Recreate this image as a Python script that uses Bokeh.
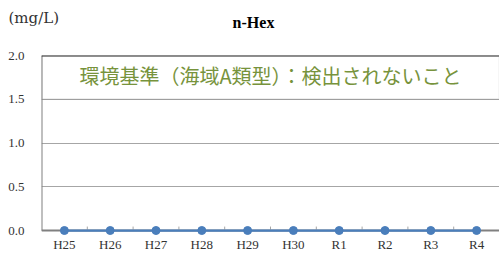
from bokeh.plotting import figure
from bokeh.layouts import column
from bokeh.models import ColumnDataSource, FactorRange, Range1d, Label, BoxAnnotation, Span, FixedTicker
from bokeh.embed import file_html
from bokeh.resources import INLINE

categories = ["H25", "H26", "H27", "H28", "H29", "H30", "R1", "R2", "R3", "R4"]
values = [0, 0, 0, 0, 0, 0, 0, 0, 0, 0]
y_ticks = [0.0, 0.5, 1.0, 1.5, 2.0]
y_tick_labels = ["0.0", "0.5", "1.0", "1.5", "2.0"]
title_text = "n-Hex"
unit_text = "(mg/L)"
standard_text = "環境基準（海域A類型）：検出されないこと"
standard_low, standard_high = 1.5, 2.0

SERIF = "Liberation Serif"

# header strip holding the title and the unit
head = figure(width=499, height=47, output_backend="svg", toolbar_location=None,
              x_range=Range1d(0, 1), y_range=Range1d(0, 1), x_axis_type=None, y_axis_type=None,
              min_border=0)
head.frame_align = False
head.outline_line_color = None
head.grid.visible = False
head.add_layout(Label(x=253, y=25, x_units="screen", y_units="screen", text=title_text,
                      text_align="center", text_baseline="middle",
                      text_font=SERIF, text_font_style="bold", text_font_size="16px", text_color="black"))
head.add_layout(Label(x=8, y=30, x_units="screen", y_units="screen", text=unit_text,
                      text_align="left", text_baseline="middle",
                      text_font="DejaVu Serif", text_font_size="15px", text_color="#333333"))

p = figure(width=499, height=207, output_backend="svg", toolbar_location=None,
           x_range=FactorRange(*categories, range_padding=0), y_range=Range1d(-0.057, 2.0),
           min_border_left=41, min_border_right=0, min_border_top=8, min_border_bottom=19)
p.frame_align = False
p.outline_line_color = None
p.background_fill_color = "white"
p.border_fill_color = "white"

p.xgrid.grid_line_color = None
p.ygrid.grid_line_color = "#A6A6A6"
p.ygrid.grid_line_width = 1
p.yaxis.ticker = FixedTicker(ticks=y_ticks)
p.yaxis.major_label_overrides = {t: l for t, l in zip(y_ticks, y_tick_labels)}

for ax in (p.xaxis, p.yaxis):
    ax.axis_line_color = None
    ax.major_tick_line_color = None
    ax.major_tick_in = 0
    ax.major_tick_out = 0
    ax.minor_tick_line_color = None
    ax.major_label_text_font = SERIF
    ax.major_label_text_font_size = "13px"
    ax.major_label_text_color = "#333333"
p.yaxis.major_label_standoff = 17
p.xaxis.major_label_standoff = 1

# axis lines drawn at the value 0 and the first category edge
x_first = (categories[0], -0.5)
x_last = (categories[-1], 0.5)
p.segment(x0=[x_first, x_first], y0=[0, 0], x1=[x_last, x_first], y1=[0, 2.0],
          line_color="#808080", line_width=2)

# boundary ticks on the x-axis
bx = [(c, 0.5) for c in categories[:-1]]
p.segment(x0=bx, y0=[0] * len(bx), x1=bx, y1=[0.045] * len(bx), line_color="#A6A6A6", line_width=1)

# standard box
p.add_layout(BoxAnnotation(bottom=standard_low, top=standard_high, fill_color=None,
                           line_color="#8C8C8C", line_width=1.5))
p.add_layout(Span(location=standard_high, dimension="width", line_color="#262626", line_width=2))

src = ColumnDataSource(dict(x=categories, y=values))
p.line("x", "y", source=src, line_color="#4A7EBB", line_width=2.25)
p.scatter("x", "y", source=src, size=8, fill_color="#4A7EBB", line_color="#4A7EBB")

p.add_layout(Label(x=5.0, y=1.77, text=standard_text, text_align="center", text_baseline="middle",
                   text_font="Noto Sans CJK JP", text_font_size="20px", text_color="#77933C"))

layout = column(head, p, spacing=0)
open("out.html", "w").write(file_html(layout, INLINE))
